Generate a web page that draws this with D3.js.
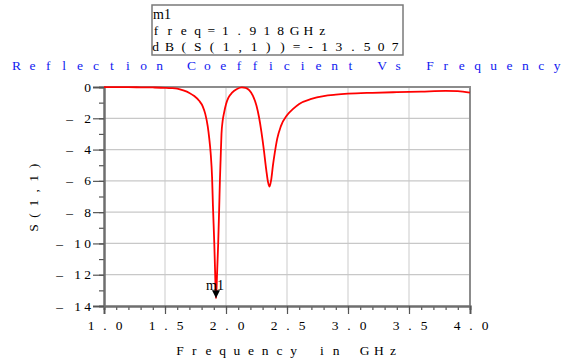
<!DOCTYPE html>
<html>
<head>
<meta charset="utf-8">
<script src="https://cdn.jsdelivr.net/npm/d3@7"></script>
<style>
    body { margin: 0; background: #fff; }
    svg { display: block; }
    text { font-family: "Liberation Serif", "DejaVu Serif", serif; white-space: pre; }
</style>
</head>
<body>
<div class="chart"></div>
<script>
// S11 sweep (GHz, dB)
const freq = [1.0, 1.1, 1.2, 1.3, 1.4, 1.5, 1.55, 1.6, 1.65, 1.7, 1.74, 1.78, 1.81, 1.83, 1.85, 1.863, 1.874,
    1.886, 1.893, 1.904, 1.911, 1.918, 1.927, 1.936, 1.944, 1.95, 1.956, 1.963, 1.972, 1.984, 2.0, 2.02, 2.05,
    2.09, 2.13, 2.16, 2.19, 2.22, 2.25, 2.27, 2.29, 2.31, 2.33, 2.345, 2.357, 2.37, 2.385, 2.4, 2.42, 2.45,
    2.5, 2.55, 2.6, 2.7, 2.8, 2.9, 3.0, 3.2, 3.4, 3.6, 3.8, 3.9, 4.0];
const s11 = [-0.005, -0.01, -0.01, -0.02, -0.03, -0.05, -0.07, -0.11, -0.22, -0.38, -0.58, -0.88, -1.25, -1.72,
    -2.5, -3.3, -4.2, -5.8, -7.6, -10.0, -11.9, -13.507, -11.9, -10.0, -7.8, -6.0, -4.6, -3.0, -2.2, -1.65,
    -1.1, -0.68, -0.36, -0.13, -0.03, -0.05, -0.2, -0.55, -1.2, -1.9, -2.85, -4.0, -5.3, -6.1, -6.37, -5.95,
    -5.0, -4.2, -3.3, -2.5, -1.8, -1.4, -1.08, -0.76, -0.58, -0.49, -0.43, -0.37, -0.33, -0.29, -0.25, -0.26,
    -0.36];

const xTicks = [1.0, 1.5, 2.0, 2.5, 3.0, 3.5, 4.0];
const xTickLabels = ["1.0", "1.5", "2.0", "2.5", "3.0", "3.5", "4.0"];
const yTicks = [0, -2, -4, -6, -8, -10, -12, -14];
const yTickLabels = ["0", "-2", "-4", "-6", "-8", "-10", "-12", "-14"];

const marker = { name: "m1", freq: 1.918, value: -13.507 };
const markerLines = ["freq=1.918GHz", "dB(S(1,1))=-13.507"];
const title = "Reflection Coefficient Vs Frequency";
const xTitle = "Frequency in GHz";
const yTitle = "S(1,1)";

const w = 565, h = 362;
const plotL = 104, plotR = 470, plotT = 87, plotB = 306;

const svg = d3.select(".chart").append("svg")
    .attr("width", w)
    .attr("height", h);

const xScale = d3.scaleLinear().domain([1, 4]).range([plotL, plotR]);
const yScale = d3.scaleLinear().domain([-14, 0]).range([plotB, plotT]);

// ADS style text: every character sits in a fixed cell
function cells(sel, str, x0, cell) {
    return sel.attr("x", Array.from(str).map((c, i) => x0 + i * cell).join(" "))
        .attr("text-anchor", "middle")
        .text(str);
}

// grid
svg.append("g").selectAll("line")
    .data(xTicks.slice(1, -1))
    .enter().append("line")
    .attr("x1", d => xScale(d)).attr("x2", d => xScale(d))
    .attr("y1", plotT).attr("y2", plotB)
    .attr("stroke", "#d4d4d4").attr("stroke-width", 1.2);
svg.append("g").selectAll("line")
    .data(yTicks.slice(1, -1))
    .enter().append("line")
    .attr("x1", plotL).attr("x2", plotR)
    .attr("y1", d => yScale(d)).attr("y2", d => yScale(d))
    .attr("stroke", "#c8c8c8").attr("stroke-width", 1.2);

// frame top / right
svg.append("path")
    .attr("d", "M" + plotL + "," + plotT + "H" + plotR + "V" + plotB)
    .attr("fill", "none")
    .attr("stroke", "#8c8c8c")
    .attr("stroke-width", 2);

// axes: minor then major ticks
const xMinor = d3.axisBottom(xScale).tickValues(d3.range(10, 41).map(d => d / 10))
    .tickSize(4).tickFormat("");
const xMajor = d3.axisBottom(xScale).tickValues(xTicks).tickSize(8).tickFormat("");
const yMinor = d3.axisLeft(yScale).tickValues(d3.range(-14, 1)).tickSize(5).tickFormat("");
const yMajor = d3.axisLeft(yScale).tickValues(yTicks).tickSize(11).tickFormat("");

[xMinor, xMajor].forEach(a => {
    svg.append("g")
        .attr("class", "x-axis")
        .attr("transform", "translate(0," + plotB + ")")
        .call(a);
});
[yMinor, yMajor].forEach(a => {
    svg.append("g")
        .attr("class", "y-axis")
        .attr("transform", "translate(" + plotL + ",0)")
        .call(a);
});
svg.selectAll(".x-axis path, .y-axis path")
    .attr("stroke", "#6e6e6e").attr("stroke-width", 2);
svg.selectAll(".x-axis line, .y-axis line")
    .attr("stroke", "#555").attr("stroke-width", 1.2);

// tick labels
svg.append("g").selectAll("text")
    .data(xTicks)
    .enter().append("text")
    .attr("y", 330)
    .attr("font-size", 13.5)
    .attr("fill", "#000")
    .each(function (d, i) {
        cells(d3.select(this), xTickLabels[i], xScale(d) - 13, 14);
    });

svg.append("g").selectAll("text")
    .data(yTicks)
    .enter().append("text")
    .attr("y", d => yScale(d) + 4.5)
    .attr("font-size", 13.5)
    .attr("fill", "#000")
    .each(function (d, i) {
        const lab = yTickLabels[i];
        const digits = lab.replace("-", "");
        const xs = Array.from(digits).map((c, k) => 87.5 - (digits.length - 1 - k) * 10);
        if (lab[0] === "-") xs.unshift(xs[0] - 18);
        d3.select(this)
            .attr("x", xs.join(" "))
            .attr("text-anchor", "middle")
            .text(lab.replace("-", "\u2013"));
    });

// axis titles
cells(svg.append("text").attr("y", 355).attr("font-size", 13.5).attr("fill", "#000"),
    xTitle, 180, 14.2);
cells(svg.append("text")
    .attr("transform", "rotate(-90)")
    .attr("y", 38)
    .attr("font-size", 13.5)
    .attr("fill", "#000"), yTitle, -228, 12.4);

// title
cells(svg.append("text").attr("y", 70).attr("font-size", 13.5).attr("fill", "#1020f0"),
    title, 16.5, 15.9);

// curve
const line = d3.line()
    .x((d, i) => xScale(freq[i]))
    .y(d => yScale(d))
    .curve(d3.curveMonotoneX);

svg.append("path")
    .datum(s11)
    .attr("d", line)
    .attr("fill", "none")
    .attr("stroke", "#ff0000")
    .attr("stroke-width", 1.8);

// marker m1
const mx = xScale(marker.freq), my = yScale(marker.value);
svg.append("path")
    .attr("d", "M" + (mx - 4) + "," + (my - 8) + "H" + (mx + 4) + "L" + mx + "," + my + "Z")
    .attr("fill", "#000");
svg.append("text")
    .attr("x", mx - 1)
    .attr("y", my - 8)
    .attr("text-anchor", "middle")
    .attr("font-size", 14)
    .attr("fill", "#000")
    .text(marker.name);

// marker readout box
svg.append("rect")
    .attr("x", 152).attr("y", 5)
    .attr("width", 251).attr("height", 50)
    .attr("fill", "#fff")
    .attr("stroke", "#7a7a7a")
    .attr("stroke-width", 1.5);
svg.append("text")
    .attr("x", 153).attr("y", 19)
    .attr("font-size", 14)
    .attr("fill", "#000")
    .text(marker.name);
cells(svg.append("text").attr("y", 35).attr("font-size", 13.5).attr("fill", "#000"),
    markerLines[0], 156, 13.85);
cells(svg.append("text").attr("y", 51).attr("font-size", 13.5).attr("fill", "#000"),
    markerLines[1], 155.5, 14.1);
</script>
</body>
</html>
